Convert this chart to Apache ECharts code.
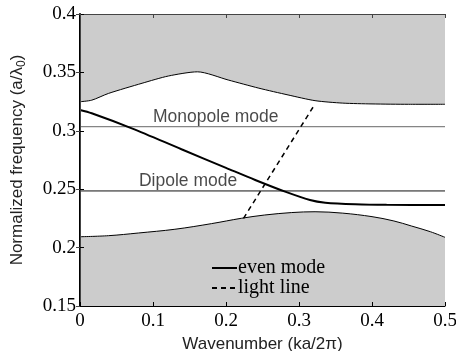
<!DOCTYPE html>
<html>
<head>
<meta charset="utf-8">
<script src="https://cdn.jsdelivr.net/npm/echarts@6/dist/echarts.min.js"></script>
<style>
  html, body { margin: 0; padding: 0; background: #fff; }
  #main { width: 456px; height: 351px; }
</style>
</head>
<body>
<div id="main"></div>
<script>
// band edges (upper / lower gray regions)
var upperK = [0, 0.016, 0.039, 0.085, 0.121, 0.161, 0.203, 0.245, 0.285, 0.322, 0.36, 0.4, 0.45, 0.5];
var upperF = [0.3249, 0.3262, 0.3320, 0.3407, 0.3469, 0.3505, 0.3435, 0.3365, 0.3307, 0.3258, 0.3237, 0.3230, 0.3227, 0.3227];
var lowerK = [0, 0.039, 0.08, 0.13, 0.18, 0.221, 0.253, 0.29, 0.322, 0.36, 0.4, 0.43, 0.454, 0.48, 0.5];
var lowerF = [0.2093, 0.2102, 0.2125, 0.2157, 0.2205, 0.2251, 0.2279, 0.2300, 0.2307, 0.2295, 0.2265, 0.2228, 0.2185, 0.2136, 0.2088];
// even mode
var evenK = [0, 0.016, 0.071, 0.139, 0.2, 0.24, 0.281, 0.315, 0.336, 0.377, 0.42, 0.5];
var evenF = [0.3178, 0.3150, 0.3021, 0.2842, 0.2683, 0.2579, 0.2479, 0.2408, 0.2385, 0.2371, 0.2366, 0.2365];
// light line
var lightK = [0.224, 0.322];
var lightF = [0.2251, 0.3230];
// flat modes
var modeK = [0, 0.5];
var monopoleF = 0.3035;
var dipoleF = 0.2485;
var modeNames = ['Monopole mode', 'Dipole mode'];
var modeLabelK = [0.186, 0.148];
// ticks
var xTicks = [0, 0.1, 0.2, 0.3, 0.4, 0.5];
var yTicks = [0.15, 0.2, 0.25, 0.3, 0.35, 0.4];

function pairs(xs, ys) {
  return xs.map(function (x, i) { return [x, ys[i]]; });
}
function flat(v) {
  return modeK.map(function (x) { return [x, v]; });
}
function fmt(v) { return String(+(+v).toFixed(2)); }

var chart = echarts.init(document.getElementById('main'));
var serif = 'Liberation Serif';
var sans = 'Liberation Sans';

var option = {
  backgroundColor: '#fff',
  animation: false,
  grid: { left: 80, right: 11, top: 14, bottom: 45, outerBoundsMode: 'none', containLabel: false },
  legend: {
    data: ['even mode', 'light line'],
    left: 206, top: 253,
    orient: 'vertical',
    itemWidth: 25, itemHeight: 12, itemGap: 0,
    itemStyle: { opacity: 0 },
    textStyle: { fontFamily: serif, fontSize: 20, lineHeight: 20, color: '#000', padding: [0, 0, 0, -4] }
  },
  xAxis: [{
    type: 'value', min: 0, max: 0.5, interval: 0.1, z: 10,
    name: 'Wavenumber (ka/2\u03c0)', nameLocation: 'middle', nameGap: 24,
    nameTextStyle: { fontFamily: sans, fontSize: 17, color: '#222' },
    axisLine: { lineStyle: { color: '#000', width: 1 } },
    axisTick: { inside: true, length: 4, lineStyle: { color: '#000' } },
    axisLabel: { fontFamily: serif, fontSize: 19, color: '#000', margin: 6, formatter: fmt },
    splitLine: { show: false }
  }, {
    type: 'value', min: 0, max: 0.5, interval: 0.1, position: 'top', z: 10,
    axisLine: { show: true, lineStyle: { color: '#444', width: 1 } },
    axisTick: { inside: true, length: 4, lineStyle: { color: '#444' } },
    axisLabel: { show: false }, splitLine: { show: false }
  }],
  yAxis: [{
    type: 'value', min: 0.15, max: 0.4, interval: 0.05, z: 10,
    name: '{a|Normalized frequency (a/\u03bb}{sub|0}{a|)}', nameLocation: 'middle', nameGap: 54,
    nameTextStyle: {
      fontFamily: sans, fontSize: 17, color: '#222',
      rich: {
        a: { fontFamily: sans, fontSize: 17, color: '#222', lineHeight: 17, verticalAlign: 'top' },
        sub: { fontFamily: sans, fontSize: 12, color: '#222', lineHeight: 14, verticalAlign: 'top', padding: [7, 0, 0, 0] }
      }
    },
    axisLine: { lineStyle: { color: '#000', width: 2 } },
    axisTick: { inside: true, length: 4, lineStyle: { color: '#000' } },
    axisLabel: { fontFamily: serif, fontSize: 19, color: '#000', margin: 4, formatter: fmt },
    splitLine: { show: false }
  }, {
    type: 'value', min: 0.15, max: 0.4, interval: 0.05, position: 'right', z: 10,
    axisLine: { show: true, lineStyle: { color: '#444', width: 1 } },
    axisTick: { inside: true, length: 4, lineStyle: { color: '#444' } },
    axisLabel: { show: false }, splitLine: { show: false }
  }],
  series: [
    {
      name: 'upper band', type: 'line', smooth: 0.25, symbol: 'none',
      data: pairs(upperK, upperF),
      lineStyle: { color: '#000', width: 1 },
      areaStyle: { color: '#cccccc', opacity: 1, origin: 'end' }
    },
    {
      name: 'lower band', type: 'line', smooth: 0.35, symbol: 'none',
      data: pairs(lowerK, lowerF),
      lineStyle: { color: '#000', width: 1 },
      areaStyle: { color: '#cccccc', opacity: 1, origin: 'start' }
    },
    {
      name: 'monopole', type: 'line', symbol: 'none', data: flat(monopoleF),
      lineStyle: { color: '#666', width: 1 }
    },
    {
      name: 'dipole', type: 'line', symbol: 'none', data: flat(dipoleF),
      lineStyle: { color: '#111', width: 1 }
    },
    {
      name: 'mode labels', type: 'scatter', symbolSize: 0,
      data: [[modeLabelK[0], monopoleF, modeNames[0]], [modeLabelK[1], dipoleF, modeNames[1]]],
      label: {
        show: true, position: 'top', distance: 1,
        fontFamily: sans, fontSize: 17.5, color: '#1a1a1a',
        formatter: function (p) { return p.data[2]; }
      }
    },
    {
      name: 'even mode', type: 'line', smooth: 0.3, symbol: 'none',
      data: pairs(evenK, evenF),
      itemStyle: { color: '#000' },
      lineStyle: { color: '#000', width: 2 }
    },
    {
      name: 'light line', type: 'line', symbol: 'none',
      data: pairs(lightK, lightF),
      itemStyle: { color: '#000' },
      lineStyle: { color: '#000', width: 1.5, type: [5, 4] }
    }
  ]
};
chart.setOption(option);
</script>
</body>
</html>
